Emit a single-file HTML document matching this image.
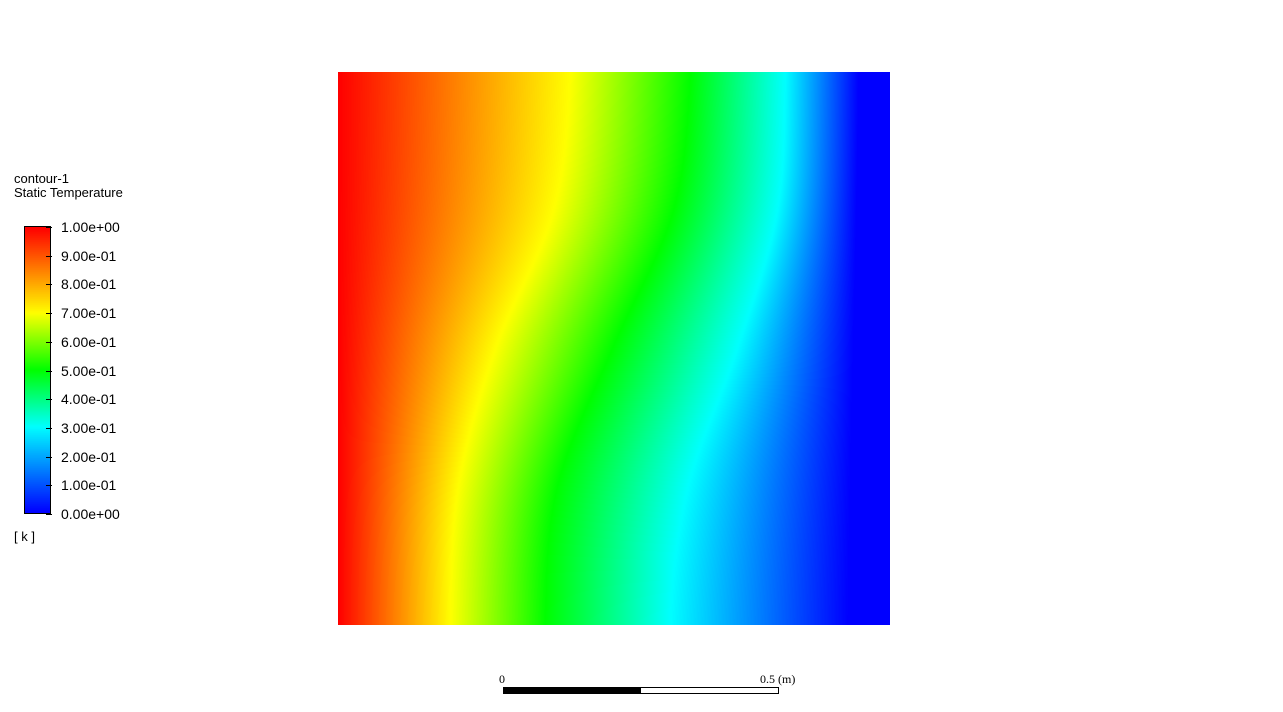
<!DOCTYPE html>
<html><head><meta charset="utf-8"><style>
body{margin:0;width:1283px;height:712px;background:#fff;position:relative;overflow:hidden;font-family:"Liberation Sans",sans-serif;}
.t{position:absolute;font-size:13px;color:#000;white-space:nowrap}
.s{position:absolute;font-family:"Liberation Serif",serif;font-size:12px}
</style></head><body>
<canvas id="plot" width="552" height="553" style="position:absolute;left:338px;top:72px"></canvas>
<div class="t" style="left:14px;top:171px">contour-1</div>
<div class="t" style="left:14px;top:185px">Static Temperature</div>
<canvas id="cbar" width="25" height="286" style="position:absolute;left:25px;top:227px;border:1px solid #000;margin:-1px 0 0 -1px"></canvas>
<div id="ticks"></div>
<div class="t" style="left:14px;top:529px">[ k ]</div>
<div style="position:absolute;left:503px;top:687px;width:274px;height:5px;border:1px solid #000;background:linear-gradient(90deg,#000 50%,#fff 50%)"></div>
<div class="s" style="left:499px;top:672px">0</div>
<div class="s" style="left:760px;top:672px">0.5 (m)</div>
<script>
const tickLabels=["1.00e+00","9.00e-01","8.00e-01","7.00e-01","6.00e-01","5.00e-01","4.00e-01","3.00e-01","2.00e-01","1.00e-01","0.00e+00"];
const rowsV=[0,0.25,0.5,0.75,1];
const levels=[1,0.7,0.5,0.3,0];
const iso1=[338,338,338,338,338];
const iso07=[570,553,495,458,450];
const iso05=[690,673,612,557,545];
const iso03=[785,777,737,688,670];
const iso0=[858,856,853,850,848];
const cmapT=[0,0.3,0.5,0.7,0.85,1];
const cmapC=[[0,0,255],[0,255,255],[0,255,0],[255,255,0],[255,128,0],[255,0,0]];
function color(t){t=Math.max(0,Math.min(1,t));for(let i=0;i<cmapT.length-1;i++){if(t<=cmapT[i+1]){const f=(t-cmapT[i])/(cmapT[i+1]-cmapT[i]);return cmapC[i].map((c,k)=>c+(cmapC[i+1][k]-c)*f);}}return cmapC[5];}
function interpRow(arr,v){const n=arr.length;let i=Math.min(n-2,Math.floor(v*(n-1)));const f=v*(n-1)-i;
 const p0=arr[Math.max(0,i-1)],p1=arr[i],p2=arr[i+1],p3=arr[Math.min(n-1,i+2)];
 const m1=(p2-(i>0?p0:p1))/(i>0?2:1)*(i>0?1:0.5),m2=(p3-p1)/2*(i+2<n?1:0.5);
 const f2=f*f,f3=f2*f;return (2*f3-3*f2+1)*p1+(f3-2*f2+f)*m1+(-2*f3+3*f2)*p2+(f3-f2)*m2;}
const isos=[iso1,iso07,iso05,iso03,iso0];
const cv=document.getElementById('plot'),ctx=cv.getContext('2d'),W=cv.width,H=cv.height,img=ctx.createImageData(W,H);
for(let y=0;y<H;y++){const v=y/(H-1);const xs=isos.map(a=>interpRow(a,v)-338);
 for(let x=0;x<W;x++){let t=0;if(x<=xs[0])t=1;else if(x>=xs[4])t=0;else{for(let i=0;i<4;i++){if(x<=xs[i+1]){const f=(x-xs[i])/(xs[i+1]-xs[i]);t=levels[i]+(levels[i+1]-levels[i])*f;break;}}}
 const c=color(t),p=(y*W+x)*4;img.data[p]=c[0];img.data[p+1]=c[1];img.data[p+2]=c[2];img.data[p+3]=255;}}
ctx.putImageData(img,0,0);
const cb=document.getElementById('cbar'),cx=cb.getContext('2d');
for(let y=0;y<cb.height;y++){const c=color(1-y/(cb.height-1));cx.fillStyle=`rgb(${c[0]|0},${c[1]|0},${c[2]|0})`;cx.fillRect(0,y,26,1);}
const tk=document.getElementById('ticks');
tickLabels.forEach((l,i)=>{const y=227+i*28.7;const d=document.createElement('div');


d.className='t';d.style.left='61px';d.style.top=(y-8)+'px';d.style.fontSize='14px';d.textContent=l;tk.appendChild(d);
const m=document.createElement('div');


m.style.cssText=`position:absolute;left:46px;top:${y}px;width:6px;height:1px;background:#000`;tk.appendChild(m);});
</script>
</body></html>
